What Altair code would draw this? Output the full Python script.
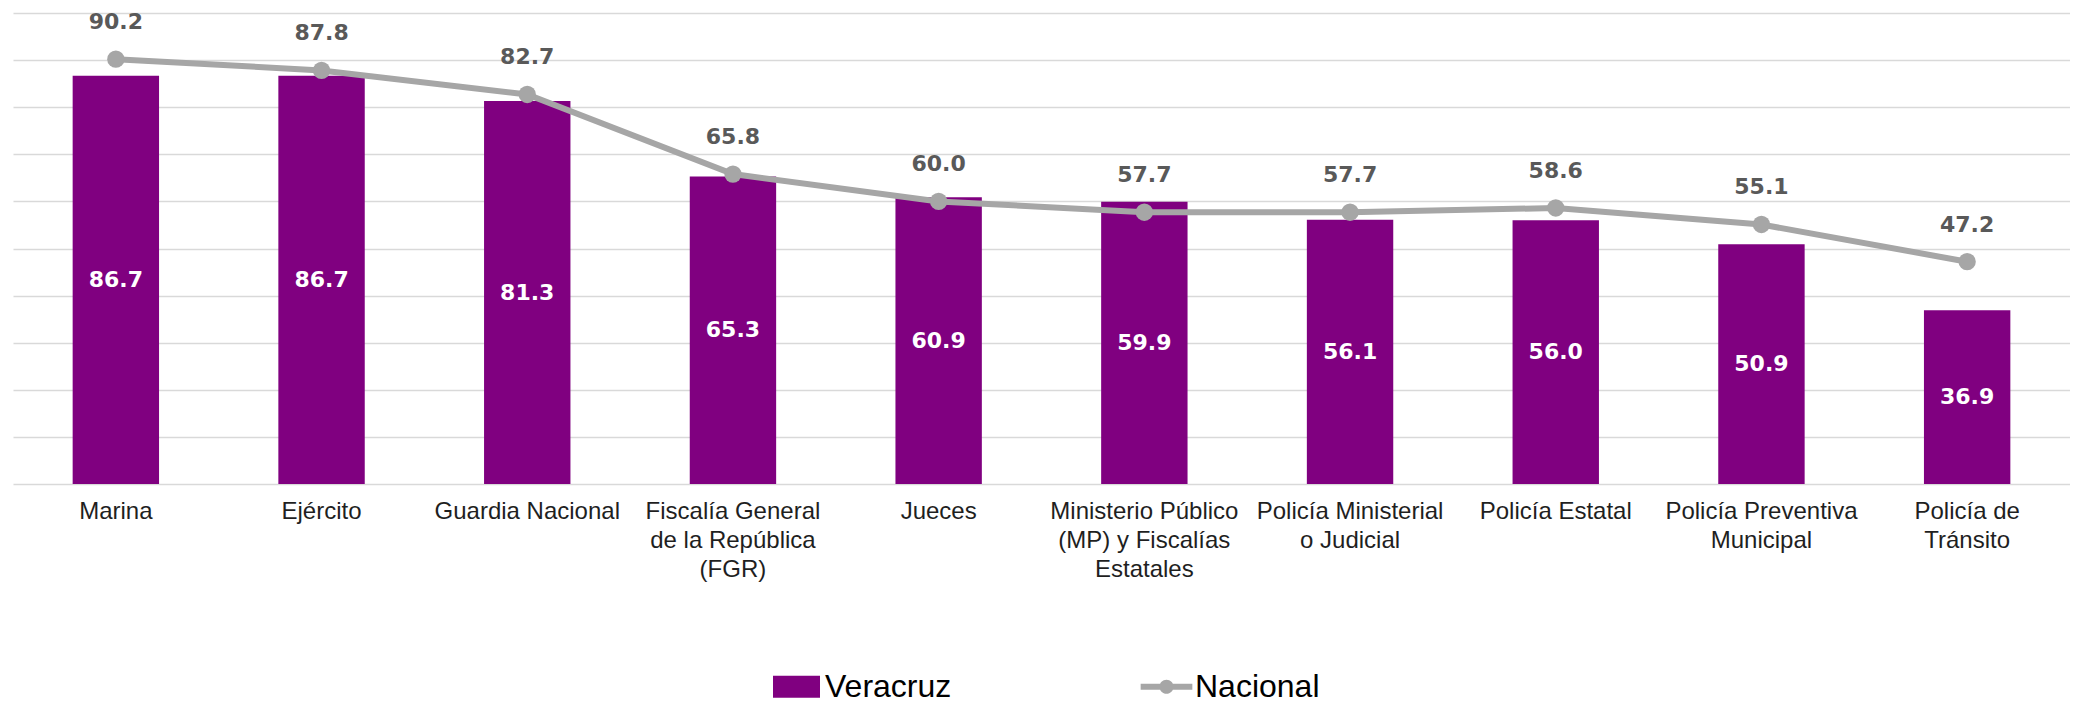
import altair as alt
import pandas as pd

categorias = [
    "Marina",
    "Ejército",
    "Guardia Nacional",
    "Fiscalía General\nde la República\n(FGR)",
    "Jueces",
    "Ministerio Público\n(MP) y Fiscalías\nEstatales",
    "Policía Ministerial\no Judicial",
    "Policía Estatal",
    "Policía Preventiva\nMunicipal",
    "Policía de\nTránsito",
]
veracruz = [86.7, 86.7, 81.3, 65.3, 60.9, 59.9, 56.1, 56.0, 50.9, 36.9]
nacional = [90.2, 87.8, 82.7, 65.8, 60.0, 57.7, 57.7, 58.6, 55.1, 47.2]
series = ["Veracruz", "Nacional"]

PURPLE = "#800080"
GRAY = "#A6A6A6"
LABEL_GRAY = "#595959"

df = pd.DataFrame({"categoria": categorias, "Veracruz": veracruz, "Nacional": nacional})

x_enc = alt.X(
    "categoria:N",
    sort=categorias,
    scale=alt.Scale(paddingInner=0, paddingOuter=0),
    axis=alt.Axis(
        title=None,
        labelAngle=0,
        ticks=False,
        tickSize=0,
        domain=False,
        labelPadding=15,
        labelFont="Liberation Sans",
        labelFontSize=24,
        labelLineHeight=29,
        labelColor="#1f1f1f",
        labelExpr="split(datum.label, '\\n')",
        labelLimit=400,
    ),
)
y_scale = alt.Scale(domain=[0, 100], nice=False)

base = alt.Chart(df)

bars = base.mark_bar(color=PURPLE, width=alt.RelativeBandSize(0.42)).encode(
    x=x_enc,
    y=alt.Y(
        "Veracruz:Q",
        scale=y_scale,
        axis=alt.Axis(
            title=None,
            labels=False,
            ticks=False,
            domain=False,
            values=[0, 10, 20, 30, 40, 50, 60, 70, 80, 90, 100],
            grid=True,
            gridColor="#D9D9D9",
            gridWidth=1.5,
        ),
    ),
)

line = base.mark_line(color=GRAY, strokeWidth=6).encode(
    x=x_enc, y=alt.Y("Nacional:Q", scale=y_scale)
)
points = base.mark_point(filled=True, size=300, color=GRAY, opacity=1).encode(
    x=x_enc, y=alt.Y("Nacional:Q", scale=y_scale)
)

bar_labels = base.transform_calculate(mid="datum.Veracruz / 2").mark_text(
    color="white", font="DejaVu Sans", fontWeight="bold", fontSize=22, baseline="middle"
).encode(
    x=x_enc,
    y=alt.Y("mid:Q", scale=y_scale),
    text=alt.Text("Veracruz:Q", format=".1f"),
)

line_labels = base.mark_text(
    color=LABEL_GRAY, font="DejaVu Sans", fontWeight="bold", fontSize=22,
    baseline="middle", dy=-37,
).encode(
    x=x_enc,
    y=alt.Y("Nacional:Q", scale=y_scale),
    text=alt.Text("Nacional:Q", format=".1f"),
)

RECT = "M -1,-0.47 L 1,-0.47 L 1,0.47 L -1,0.47 Z"
LINEPT = ("M -1.1,-0.13 L 1.1,-0.13 L 1.1,0.13 L -1.1,0.13 Z "
          "M -0.3,0 A 0.3,0.3 0 1,1 0.3,0 A 0.3,0.3 0 1,1 -0.3,0 Z")

legend_props = dict(
    title=None,
    orient="none",
    legendX=760,
    legendY=650,
    direction="horizontal",
    symbolSize=2209,
    symbolStrokeWidth=0,
    symbolOpacity=1,
    labelFont="Liberation Sans",
    labelFontSize=32,
    labelColor="#000000",
    labelOffset=5,
    columnPadding=188,
    padding=0,
    labelLimit=400,
)

legend_layer = base.transform_fold(series, as_=["serie", "valor"]).transform_calculate(
    oculto="'oculto'"
).mark_point(filled=True).encode(
    x=x_enc,
    y=alt.Y("valor:Q", scale=y_scale),
    opacity=alt.Opacity("oculto:N", scale=alt.Scale(range=[0, 0]), legend=None),
    color=alt.Color("serie:N", scale=alt.Scale(domain=series, range=[PURPLE, GRAY]),
                    legend=alt.Legend(**legend_props)),
    shape=alt.Shape("serie:N", scale=alt.Scale(domain=series, range=[RECT, LINEPT]),
                    legend=alt.Legend(**legend_props)),
)

chart = alt.layer(legend_layer, bars, line, points, bar_labels, line_labels).properties(
    width=2057,
    height=471,
    autosize=alt.AutoSizeParams(type="none"),
    padding={"left": 5, "top": 5, "right": 0, "bottom": 225},
    background="white",
).configure_view(stroke=None)

chart.save("out.html", embed_options={"renderer": "svg", "actions": False})
